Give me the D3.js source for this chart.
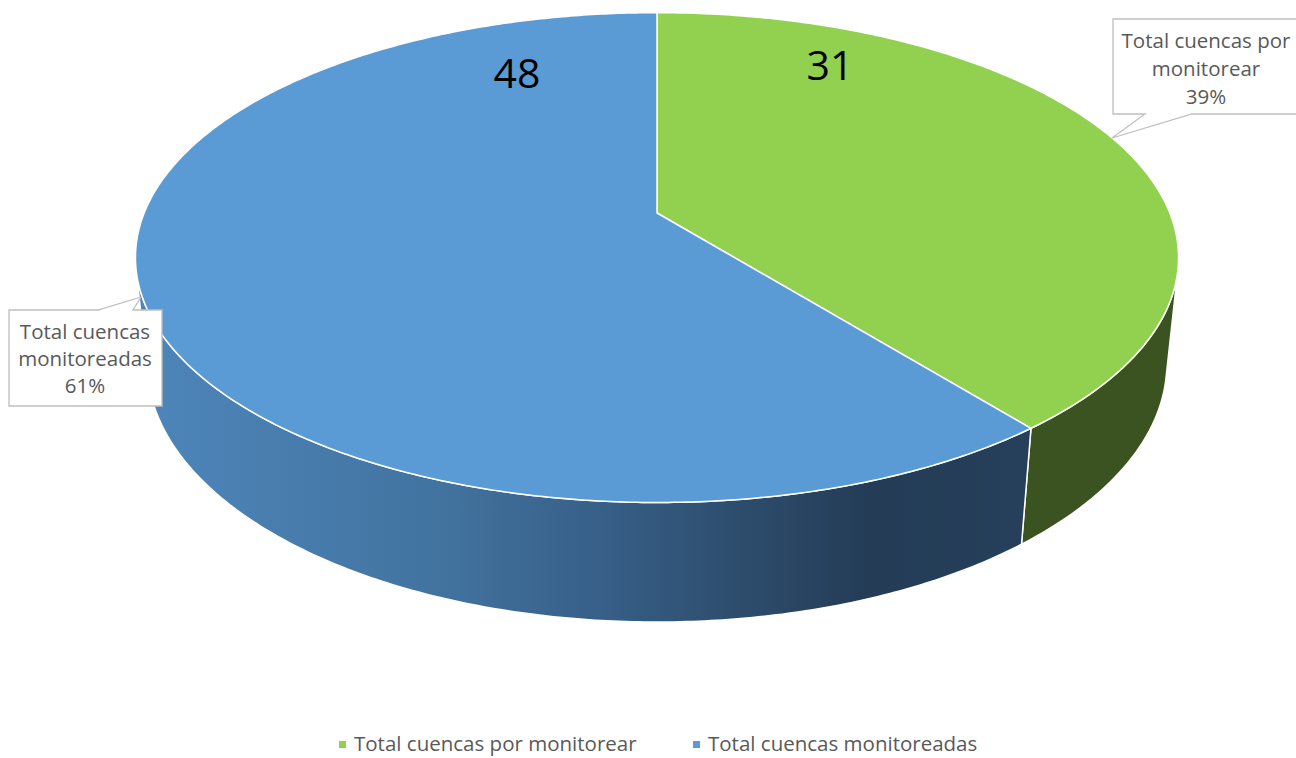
<!DOCTYPE html>
<html>
<head>
<meta charset="utf-8">
<script src="https://cdn.jsdelivr.net/npm/d3@7"></script>
<style>
  body { margin: 0; background: #ffffff; }
  svg { display: block; }
  text { font-family: "Open Sans", "Noto Sans", sans-serif; }
</style>
</head>
<body>
<svg id="chart" width="1296" height="758"></svg>
<script>
// Data
const categories = ["Total cuencas por monitorear", "Total cuencas monitoreadas"];
const values = [31, 48];
const topColors = ["#92D050", "#5B9BD5"];
const sideColors = ["#3B5321", null]; // null -> shaded gradient

const svg = d3.select("#chart");

// Perspective camera for the 3D pie (unit-radius disc, top face at z = 0)
const elev = 27.5 * Math.PI / 180;
const sE = Math.sin(elev), cE = Math.cos(elev);
const camDist = 4.873, focal = 2499, thickness = 0.235;
const cx = 657, cy = 213;

// theta: clockwise from 12 o'clock (d3.pie convention), r: radius fraction, z: height
function project(theta, r, z) {
  const x = r * Math.sin(theta), y = -r * Math.cos(theta);
  const d = camDist - y * cE - z * sE;
  return [cx + x * focal / d, cy + (y * sE - z * cE) * focal / d];
}

const pie = d3.pie().sort(null).startAngle(0).endAngle(2 * Math.PI);
const arcs = pie(values);
const total = d3.sum(values);

const line = d3.line();
function sampleAngles(a0, a1) {
  const n = Math.max(2, Math.ceil(Math.abs(a1 - a0) / 0.01));
  return d3.range(n + 1).map(i => a0 + (a1 - a0) * i / n);
}

// Outer wall is only visible where it faces the camera
const kVis = 1 / (camDist * cE);
const visA = Math.acos(-kVis), visB = 2 * Math.PI - visA;

const defs = svg.append("defs");
const grad = defs.append("linearGradient")
  .attr("id", "blueSide")
  .attr("gradientUnits", "userSpaceOnUse")
  .attr("x1", 137).attr("x2", 1030).attr("y1", 0).attr("y2", 0);
[[0, "#4E86BB"], [0.34, "#42739F"], [0.52, "#375F88"], [0.68, "#2D4C6C"],
 [0.82, "#243C56"], [1, "#263F5A"]].forEach(([o, c]) =>
  grad.append("stop").attr("offset", o).attr("stop-color", c));

const pieG = svg.append("g");

// Side walls
arcs.forEach((a, i) => {
  const a0 = Math.max(a.startAngle, visA), a1 = Math.min(a.endAngle, visB);
  if (a1 <= a0) return;
  const angs = sampleAngles(a0, a1);
  const pts = angs.map(t => project(t, 1, 0))
    .concat(angs.slice().reverse().map(t => project(t, 1, -thickness)));
  pieG.append("path")
    .attr("d", line(pts) + "Z")
    .attr("fill", sideColors[i] || "url(#blueSide)")
    .attr("stroke", "#ffffff")
    .attr("stroke-width", 1.5)
    .attr("stroke-linejoin", "round");
});

// Top faces
arcs.forEach((a, i) => {
  const pts = [project(0, 0, 0)].concat(sampleAngles(a.startAngle, a.endAngle).map(t => project(t, 1, 0)));
  pieG.append("path")
    .attr("d", line(pts) + "Z")
    .attr("fill", topColors[i])
    .attr("stroke", "#ffffff")
    .attr("stroke-width", 1.5)
    .attr("stroke-linejoin", "round");
});

// Value labels on the top face
const valuePos = [[830, 80], [517, 88]];
arcs.forEach((a, i) => {
  svg.append("text")
    .attr("x", valuePos[i][0]).attr("y", valuePos[i][1])
    .attr("text-anchor", "middle")
    .attr("font-size", 41)
    .attr("fill", "#000000")
    .text(values[i]);
});

// Callout labels with category and percentage
const pct = v => Math.round(v / total * 100) + "%";
const callouts = [
  { shape: "M1113,19H1300V114H1192L1112,138L1145,114H1113Z",
    x: 1206, y: [48, 76, 104], lines: ["Total cuencas por", "monitorear", pct(values[0])] },
  { shape: "M9,310H98L141,297L133,310H162V406H9Z",
    x: 85, y: [339, 366, 393], lines: ["Total cuencas", "monitoreadas", pct(values[1])] }
];
callouts.forEach(c => {
  svg.append("path")
    .attr("d", c.shape)
    .attr("fill", "#ffffff")
    .attr("stroke", "#BFBFBF")
    .attr("stroke-width", 1.3);
  c.lines.forEach((t, j) => {
    svg.append("text")
      .attr("x", c.x).attr("y", c.y[j])
      .attr("text-anchor", "middle")
      .attr("font-size", 20.5)
      .attr("fill", "#595959")
      .text(t);
  });
});

// Legend
const legendX = [339, 693];
const legend = svg.append("g");
categories.forEach((name, i) => {
  legend.append("rect")
    .attr("x", legendX[i]).attr("y", 741)
    .attr("width", 7).attr("height", 7)
    .attr("fill", topColors[i]);
  legend.append("text")
    .attr("x", legendX[i] + 15).attr("y", 751)
    .attr("font-size", 20.5)
    .attr("fill", "#595959")
    .text(name);
});
</script>
</body>
</html>
